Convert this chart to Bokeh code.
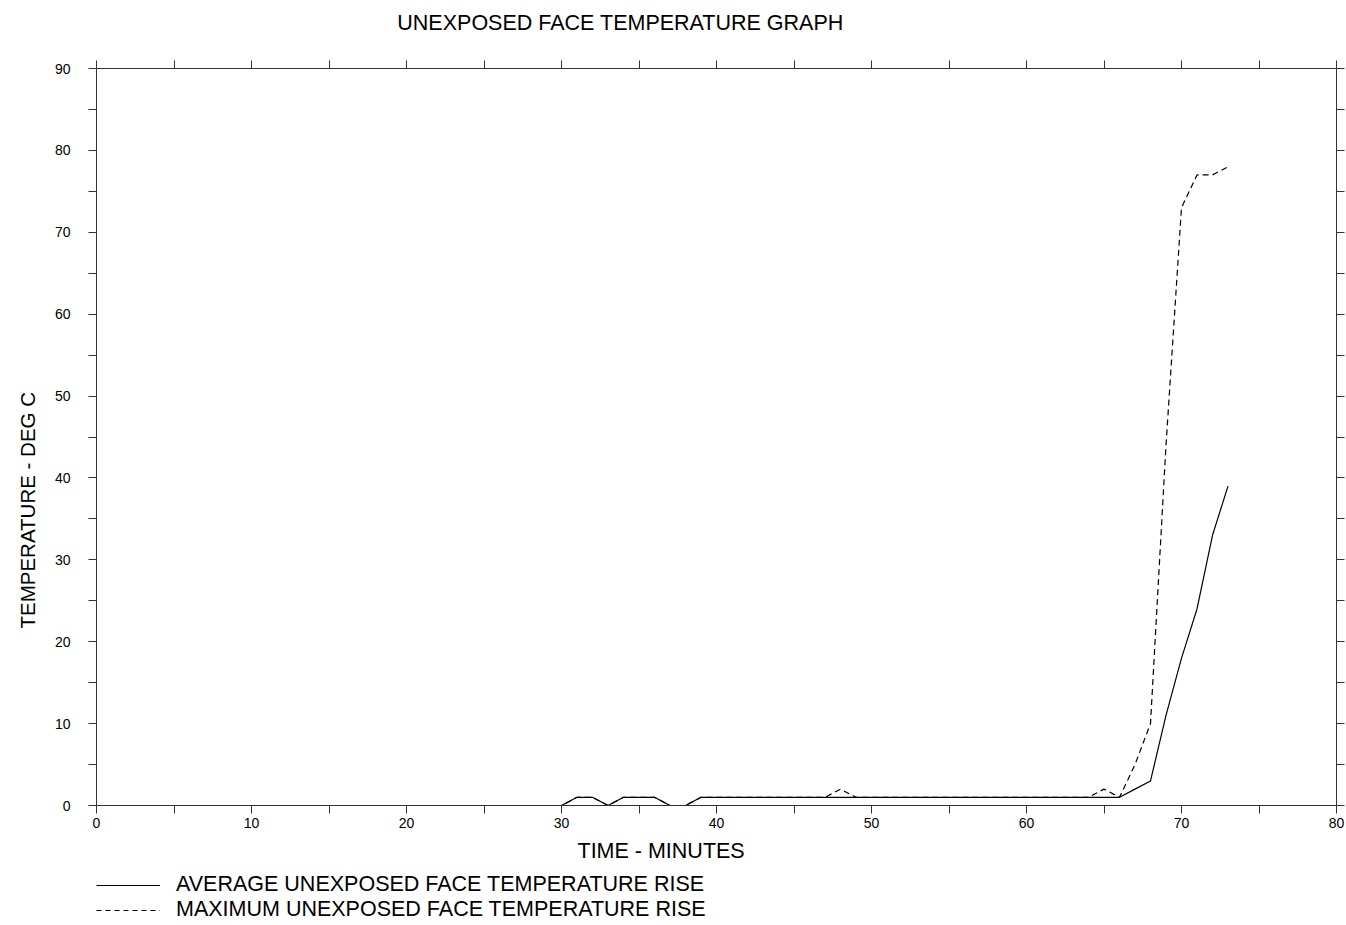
from bokeh.plotting import figure
from bokeh.layouts import column
from bokeh.models import (Range1d, FixedTicker, LinearAxis, Title, Label,
                          ColumnDataSource, Legend, LegendItem)
from bokeh.embed import file_html
from bokeh.resources import INLINE

# ---- data ----
time_min = list(range(0, 74))
avg_rise = ([0] * 31 +
            [1, 1, 0, 1, 1, 1, 0, 0] +          # 31..38
            [1] * 28 +                          # 39..66
            [2, 3, 11, 18, 24, 33, 39])         # 67..73
max_rise = ([0] * 31 +
            [1, 1, 0, 1, 1, 1, 0, 0] +          # 31..38
            [1] * 8 +                           # 39..46
            [1, 2] +                            # 47..48
            [1] * 15 +                          # 49..63
            [1, 2, 1] +                         # 64..66
            [5, 10, 44, 73, 77, 77, 78])        # 67..73

x_ticks = [0, 10, 20, 30, 40, 50, 60, 70, 80]
x_minor = [5, 15, 25, 35, 45, 55, 65, 75]
y_ticks = [0, 10, 20, 30, 40, 50, 60, 70, 80, 90]
y_minor = [5, 15, 25, 35, 45, 55, 65, 75, 85]

title_text = "UNEXPOSED FACE TEMPERATURE GRAPH"
x_label = "TIME - MINUTES"
y_label = "TEMPERATURE - DEG C"
legend_labels = ["AVERAGE UNEXPOSED FACE TEMPERATURE RISE",
                 "MAXIMUM UNEXPOSED FACE TEMPERATURE RISE"]

FONT = "Liberation Sans"
TXT = "21.5px"
FRAME_W, FRAME_H = 1240, 737
TITLE_H = 54          # strip holding the chart title
TOP, BOTTOM = 14, 66  # borders of the main chart

AX_COL = "#333333"


def bare(fig):
    fig.outline_line_color = None
    fig.xgrid.visible = False
    fig.ygrid.visible = False
    fig.border_fill_color = "white"
    fig.background_fill_color = "white"


# ---- title strip ----
tfig = figure(width=1346, height=TITLE_H, x_range=Range1d(0, 80),
              y_range=Range1d(0, 1), min_border=0,
              output_backend="svg", toolbar_location=None,
              x_axis_location=None, y_axis_location=None)
bare(tfig)
tfig.add_layout(Label(x=620 - 96, y=TITLE_H - 22, x_units="screen",
                      y_units="screen", text=title_text, text_align="center",
                      text_baseline="middle", text_font=FONT,
                      text_font_size=TXT, text_color="black"))

# ---- main chart ----
p = figure(frame_width=FRAME_W, frame_height=FRAME_H,
           min_border_left=96, min_border_right=10,
           min_border_top=TOP, min_border_bottom=BOTTOM,
           x_range=Range1d(0, 80), y_range=Range1d(0, 90),
           output_backend="svg", toolbar_location=None,
           x_axis_location=None, y_axis_location=None)
bare(p)


def style_axis(ax, ticks, minor, show_labels):
    ax.ticker = FixedTicker(ticks=ticks, minor_ticks=minor)
    ax.axis_line_color = AX_COL
    ax.axis_line_width = 1
    ax.major_tick_line_color = AX_COL
    ax.minor_tick_line_color = AX_COL
    ax.major_tick_in = 0
    ax.major_tick_out = 8
    ax.minor_tick_in = 0
    ax.minor_tick_out = 8
    ax.major_label_text_font = FONT
    ax.major_label_text_color = "black"
    if show_labels:
        ax.major_label_text_font_size = "14px"
    else:
        ax.major_label_text_font_size = "0px"
        ax.major_label_text_alpha = 0
        ax.major_label_standoff = 0
        ax.axis_label_standoff = 0


bottom = LinearAxis()
style_axis(bottom, x_ticks, x_minor, True)
bottom.major_label_standoff = 4
p.add_layout(bottom, "below")
top = LinearAxis()
style_axis(top, x_ticks, x_minor, False)
p.add_layout(top, "above")
left = LinearAxis()
style_axis(left, y_ticks, y_minor, True)
left.major_label_standoff = 18
p.add_layout(left, "left")
right = LinearAxis()
style_axis(right, y_ticks, y_minor, False)
p.add_layout(right, "right")

src = ColumnDataSource(dict(t=time_min, avg=avg_rise, mx=max_rise))
p.line("t", "avg", source=src, line_color="black", line_width=1.2)
p.line("t", "mx", source=src, line_color="black", line_width=1.2,
       line_dash="6 4")

p.add_layout(Title(text=x_label, align="left", offset=577 - 96,
                   text_font=FONT, text_font_size=TXT,
                   text_font_style="normal", text_color="black",
                   standoff=13), "below")

p.add_layout(Title(text=y_label, align="left", offset=805 - 628,
                   text_font=FONT, text_font_size="20.5px",
                   text_font_style="normal", text_color="black",
                   standoff=25), "left")

# ---- legend strip below the chart ----
LEG_H = 925 - (TITLE_H + TOP + FRAME_H + BOTTOM)
q = figure(width=1346, height=LEG_H, x_range=Range1d(0, 80),
           y_range=Range1d(1000, 1001), min_border=0,
           output_backend="svg", toolbar_location=None,
           x_axis_location=None, y_axis_location=None)
bare(q)
g_avg = q.line("t", "avg", source=src, line_color="black", line_width=1.2)
g_max = q.line("t", "mx", source=src, line_color="black", line_width=1.2,
               line_dash="5 4")
legend = Legend(items=[LegendItem(label=legend_labels[0], renderers=[g_avg]),
                       LegendItem(label=legend_labels[1], renderers=[g_max])],
                location=(0, 3), orientation="vertical",
                glyph_width=64, glyph_height=22, label_height=22,
                label_standoff=16, spacing=0, padding=0, margin=0,
                border_line_color=None, background_fill_alpha=0,
                label_text_font=FONT, label_text_font_size=TXT,
                label_text_color="black")
q.add_layout(legend, "center")

layout = column(tfig, p, q, spacing=0)
open("out.html", "w").write(file_html(layout, INLINE))
